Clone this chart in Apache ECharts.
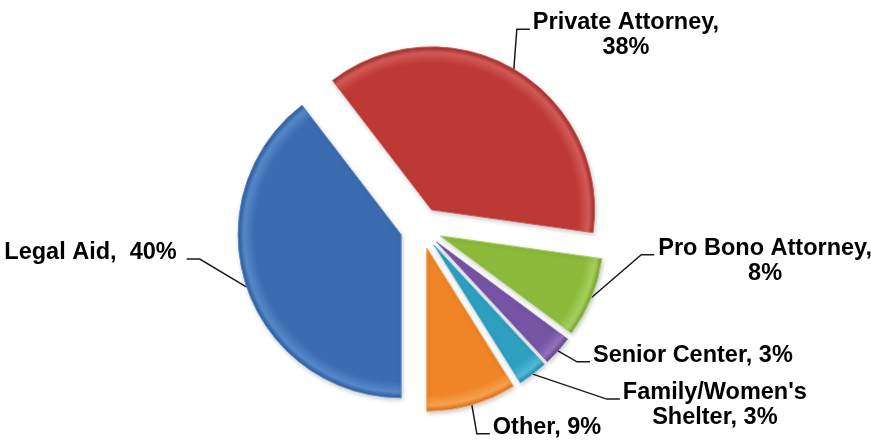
<!DOCTYPE html>
<html>
<head>
<meta charset="utf-8">
<script src="https://cdn.jsdelivr.net/npm/echarts@6/dist/echarts.min.js"></script>
<style>
  html, body { margin: 0; padding: 0; background: #ffffff; }
  #chart { width: 871px; height: 440px; }
</style>
</head>
<body>
<div id="chart"></div>
<script>
// Where people got their legal help (share, %)
const categories = ['Legal Aid', 'Private Attorney', 'Pro Bono Attorney', 'Senior Center', "Family/Women's\nShelter", 'Other'];
const shares = [40, 38, 8, 3, 3, 9];
// put the percentage on its own line under the name
const valueOnNewLine = [false, true, true, false, false, false];

// slice colours: body, bevel highlight and shaded edge
const bodyColors = ['#3b6cb0', '#bd3936', '#8cbb3c', '#7654a4', '#2f9fc0', '#ef8526'];
const rimColors = ['#5587cb', '#d25a56', '#a4cf5d', '#8f71bb', '#52b8d6', '#f8a04c'];
const edgeColors = ['#2f5a96', '#a02d2b', '#759f2f', '#5f4389', '#26859f', '#cf6f1c'];

// pie geometry
const CX = 421, CY = 228, R = 163, EXPLODE = 21;

// label placement relative to the slice's outer mid point, and which side the text sits on
const labelShift = [[-70, -47], [19, -59], [67, -62], [35, -8], [90, 6], [21, 10]];
const labelSide = ['left', 'right', 'right', 'right', 'right', 'right'];
const labelGap = [10, 3, 4, 3, 3, 3];

const total = shares.reduce((a, b) => a + b, 0);

function labelText(name, value, i) {
  const text = name + ',' + (valueOnNewLine[i] ? '\n' : (i === 0 ? '  ' : ' ')) + value + '%';
  return text.split('\n').map(l => '{t|' + l + '}').join('\n');
}

let acc = 0;
const series = shares.map((v, i) => {
  // mid angle of the slice, measured clockwise from 6 o'clock
  const mid = (acc + v / 2) / total * 2 * Math.PI;
  acc += v;
  const cx = CX - Math.sin(mid) * EXPLODE;
  const cy = CY + Math.cos(mid) * EXPLODE;

  const fill = {
    type: 'radial', x: cx, y: cy, r: R, global: true,
    colorStops: [
      { offset: 0, color: bodyColors[i] },
      { offset: 0.9, color: bodyColors[i] },
      { offset: 0.965, color: rimColors[i] },
      { offset: 1, color: edgeColors[i] }
    ]
  };

  return {
    type: 'pie',
    center: [cx, cy],
    radius: R,
    startAngle: 270,
    clockwise: true,
    silent: true,
    animation: false,
    avoidLabelOverlap: false,
    label: {
      show: false,
      position: 'outside',
      formatter: p => labelText(p.name, p.value, p.dataIndex),
      rich: {
        t: {
          align: 'center',
          fontFamily: 'Liberation Sans, Arial, sans-serif',
          fontWeight: 'bold',
          fontSize: 23.5,
          lineHeight: 25,
          color: '#000000'
        }
      }
    },
    labelLine: {
      show: false,
      smooth: false,
      lineStyle: { color: '#1a1a1a', width: 1.5 }
    },
    labelLayout: function (p) {
      const pts = p.labelLinePoints;
      if (!pts) return {};
      const x0 = pts[0][0], y0 = pts[0][1];
      const onRight = labelSide[i] === 'right';
      const lx = x0 + labelShift[i][0];
      const ly = y0 + labelShift[i][1];
      const yl = ly + 19;
      const xs = onRight ? lx - labelGap[i] : lx + labelGap[i];
      const xe = onRight ? xs - 13 : xs + 13;
      return {
        x: lx,
        y: ly,
        align: onRight ? 'left' : 'right',
        verticalAlign: 'top',
        labelLinePoints: [[x0, y0], [xe, yl], [xs, yl]]
      };
    },
    data: shares.map((s, j) => j === i
      ? {
          value: s, name: categories[j],
          itemStyle: {
            color: fill,
            borderColor: rimColors[j],
            borderWidth: 1,
            shadowColor: 'rgba(0,0,0,0.2)',
            shadowBlur: 4,
            shadowOffsetX: 1,
            shadowOffsetY: 2
          },
          label: { show: true },
          labelLine: { show: true }
        }
      : {
          value: s, name: categories[j],
          itemStyle: { color: 'rgba(0,0,0,0)', borderWidth: 0 },
          label: { show: false },
          labelLine: { show: false }
        })
  };
});

const chart = echarts.init(document.getElementById('chart'), null, { renderer: 'canvas' });
chart.setOption({
  backgroundColor: '#ffffff',
  animation: false,
  tooltip: { show: false },
  series: series
});
</script>
</body>
</html>
